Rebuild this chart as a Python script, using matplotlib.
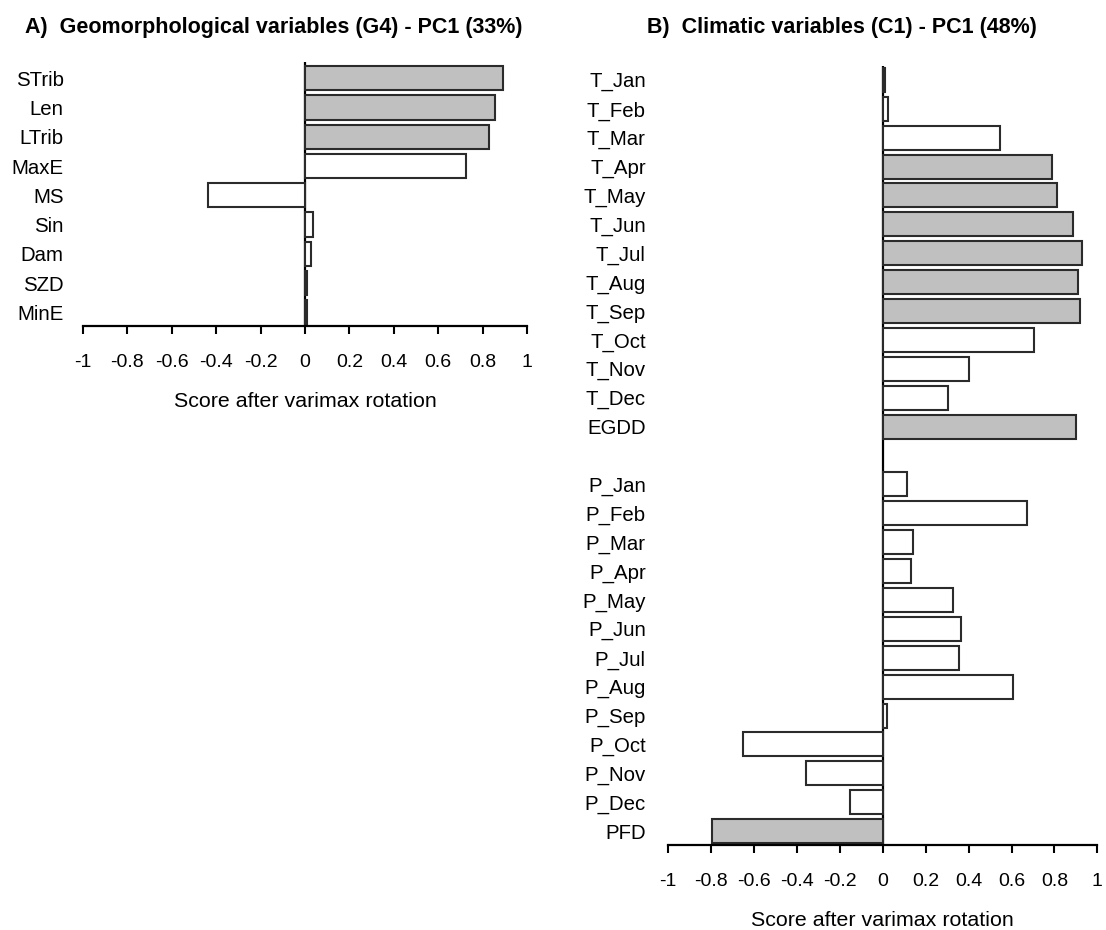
"""
PCA loadings after varimax rotation:
A) geomorphological variables (G4), B) climatic variables (C1)
"""

import numpy as np
import matplotlib
matplotlib.use("Agg")
import matplotlib.pyplot as plt

plt.rcParams['font.family'] = ['Liberation Sans', 'DejaVu Sans']

# ---- data ----
geo_labels = ['STrib', 'Len', 'LTrib', 'MaxE', 'MS', 'Sin', 'Dam', 'SZD', 'MinE']
geo_scores = [0.893, 0.856, 0.829, 0.724, -0.436, 0.036, 0.027, 0.01, 0.01]

temp_labels = ['T_Jan', 'T_Feb', 'T_Mar', 'T_Apr', 'T_May', 'T_Jun', 'T_Jul',
               'T_Aug', 'T_Sep', 'T_Oct', 'T_Nov', 'T_Dec', 'EGDD']
temp_scores = [0.012, 0.025, 0.546, 0.79, 0.81, 0.885, 0.93,
               0.908, 0.918, 0.704, 0.40, 0.304, 0.902]

prec_labels = ['P_Jan', 'P_Feb', 'P_Mar', 'P_Apr', 'P_May', 'P_Jun', 'P_Jul',
               'P_Aug', 'P_Sep', 'P_Oct', 'P_Nov', 'P_Dec', 'PFD']
prec_scores = [0.115, 0.674, 0.142, 0.13, 0.326, 0.364, 0.356,
               0.606, 0.02, -0.65, -0.355, -0.15, -0.794]

xticks = np.round(np.arange(-1, 1.01, 0.2), 1)
threshold = 0.75  # loadings above this are shaded

W, H = 1106, 930
GREY = '#c0c0c0'
EDGE = '#2b2b2b'


def drawPanel(ax, pos, labels, scores, ylims):
    """ horizontal bar chart of scores, zero line and bottom axis """
    pos = np.asarray(pos)
    scores = np.asarray(scores)
    colors = [GREY if abs(s) >= threshold else 'white' for s in scores]
    ax.barh(pos, scores, height=0.83, color=colors, edgecolor=EDGE,
            linewidth=1.5, zorder=2)
    ax.axvline(0, color='black', lw=1.6, zorder=1.5)

    ax.set_xlim(-1, 1)
    ax.set_ylim(*ylims)
    ax.set_xticks(xticks)
    ax.set_xticklabels(['{:g}'.format(v) if v != 0 else '0' for v in xticks])
    ax.set_yticks(pos)
    ax.set_yticklabels(labels)

    for s in ['top', 'right', 'left']:
        ax.spines[s].set_visible(False)
    ax.spines['bottom'].set_linewidth(1.6)

    ax.tick_params(axis='x', direction='out', length=5.5, width=1.5,
                   labelsize=14, pad=15)
    ax.tick_params(axis='y', length=0, labelsize=14.7)
    ax.set_xlabel('Score after varimax rotation', fontsize=15.4, labelpad=15)


fig = plt.figure(figsize=(W / 100, H / 100), dpi=100)

# panel A
axA = fig.add_axes([83 / W, 1 - 325.7 / H, 444 / W, 263.7 / H])
drawPanel(axA, range(len(geo_labels)), geo_labels, geo_scores, (8.45, -0.55))
axA.tick_params(axis='y', pad=14)

# panel B: temperature block, a blank slot, then precipitation block
axB = fig.add_axes([668 / W, 1 - 845 / H, 429.4 / W, 779 / H])
nT = len(temp_labels)
posB = list(range(nT)) + [nT + 1 + i for i in range(len(prec_labels))]
drawPanel(axB, posB, temp_labels + prec_labels, temp_scores + prec_scores,
          (26.48, -0.48))
axB.tick_params(axis='y', pad=16)

fig.text(25 / W, 1 - 27 / H, 'A)  Geomorphological variables (G4) - PC1 (33%)',
         fontsize=15.5, fontweight='bold', va='center', ha='left')
fig.text(647 / W, 1 - 27 / H, 'B)  Climatic variables (C1) - PC1 (48%)',
         fontsize=15.5, fontweight='bold', va='center', ha='left')

fig.savefig('out.png', dpi=100, facecolor='white')
